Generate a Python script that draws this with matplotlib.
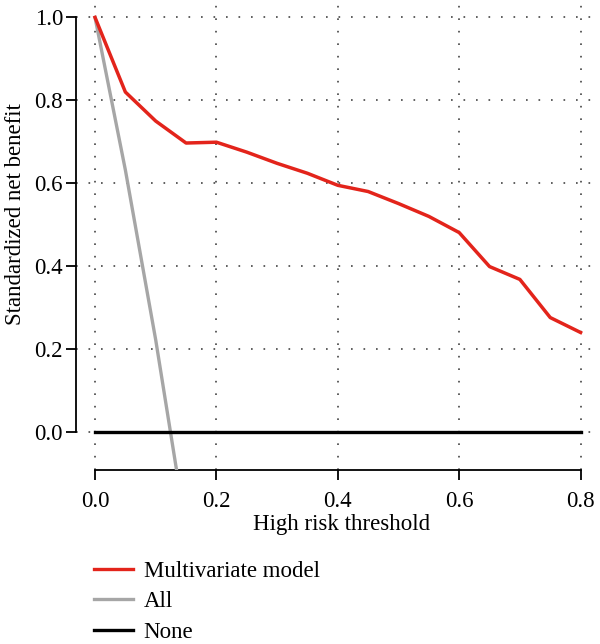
import numpy as np
import matplotlib
matplotlib.use('Agg')
import matplotlib.pyplot as plt
from matplotlib.lines import Line2D

plt.rcParams['font.family'] = ['Liberation Serif', 'DejaVu Serif']

# decision curve data
thresholds = [0.0, 0.05, 0.10, 0.15, 0.20, 0.25, 0.30, 0.35, 0.40,
              0.45, 0.50, 0.55, 0.60, 0.65, 0.70, 0.75, 0.80]
model_nb = [1.0, 0.82, 0.75, 0.697, 0.699, 0.675, 0.648, 0.624, 0.595,
            0.58, 0.551, 0.52, 0.481, 0.399, 0.368, 0.276, 0.24]
all_thr = [0.0, 0.05, 0.10, 0.15]
all_nb = [1.0, 0.632, 0.222, -0.235]
none_thr = [0.0, 0.80]
none_nb = [0.0, 0.0]

xticks = [0.0, 0.2, 0.4, 0.6, 0.8]
yticks = [0.0, 0.2, 0.4, 0.6, 0.8, 1.0]

FS = 16.5

fig = plt.figure(figsize=(6, 6.44), dpi=100)
ax = fig.add_axes([0.126, 0.270, 0.874, 0.730])
ax.set_xlim(-0.032, 0.832)
ax.set_ylim(-0.092, 1.042)

# dotted grid
for x in xticks:
    ax.axvline(x, color='#444444', lw=1.2, ls=(0, (1, 6.5)), zorder=1)
for y in yticks:
    ax.axhline(y, color='#444444', lw=1.2, ls=(0, (1, 6.5)), zorder=1)

ax.plot(all_thr, all_nb, color='#a6a6a6', lw=2.4, zorder=3)
ax.plot(none_thr, none_nb, color='black', lw=2.4, zorder=3)
ax.plot(thresholds, model_nb, color='#e3241b', lw=2.5, zorder=4)

# R-style axes
ax.spines['top'].set_visible(False)
ax.spines['right'].set_visible(False)
ax.spines['left'].set_bounds(0.0, 1.0)
ax.spines['bottom'].set_bounds(0.0, 0.8)
for s in ('left', 'bottom'):
    ax.spines[s].set_linewidth(1.3)
ax.set_xticks(xticks)
ax.set_yticks(yticks)
ax.set_xticklabels(['%.1f' % v for v in xticks])
ax.set_yticklabels(['%.1f' % v for v in yticks])
ax.tick_params(length=7, width=1.3, labelsize=FS)
ax.tick_params(axis='x', pad=8)
ax.tick_params(axis='y', pad=2)

fig.text(0.57, 0.185, 'High risk threshold', ha='center', va='center',
         fontsize=FS)
fig.text(0.026, 0.667, 'Standardized net benefit', rotation=90,
         ha='center', va='center', fontsize=FS)

handles = [Line2D([], [], color='#e3241b', lw=2.4),
           Line2D([], [], color='#a6a6a6', lw=2.4),
           Line2D([], [], color='black', lw=2.4)]
fig.legend(handles, ['Multivariate model', 'All', 'None'],
           loc='upper left', bbox_to_anchor=(0.142, 0.143),
           frameon=False, fontsize=FS, handlelength=1.7,
           handletextpad=0.45, labelspacing=0.4, borderaxespad=0)

fig.savefig('out.png', dpi=100)
